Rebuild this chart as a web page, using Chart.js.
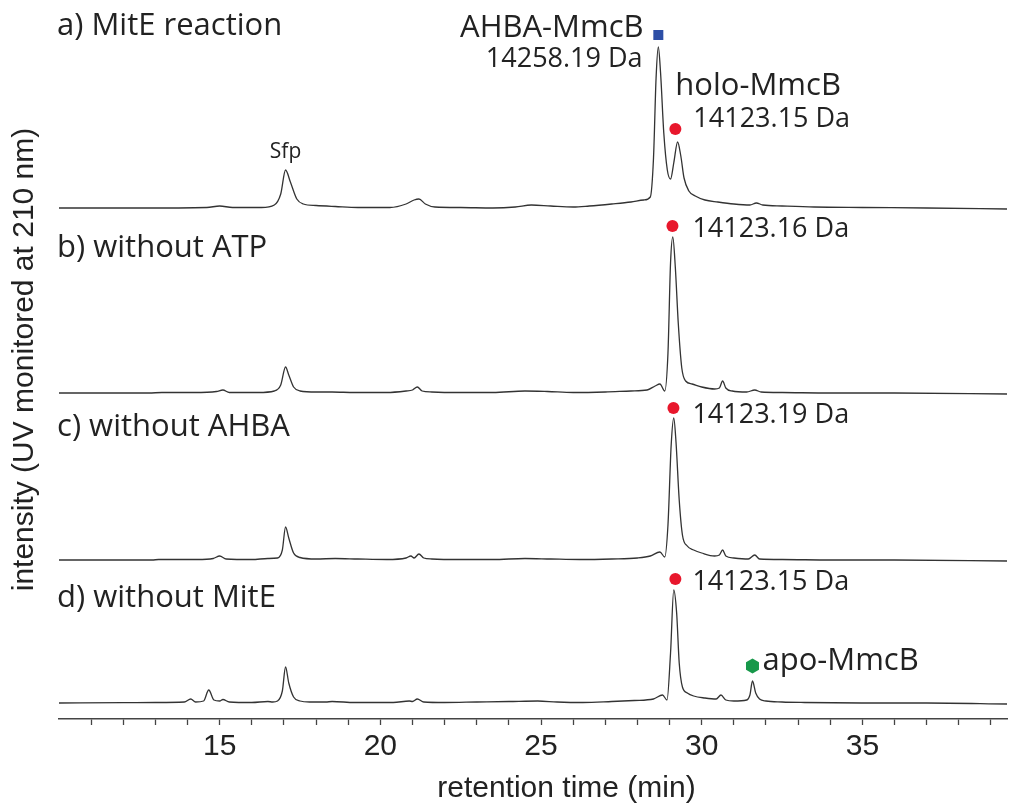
<!DOCTYPE html>
<html>
<head>
<meta charset="utf-8">
<script src="https://cdn.jsdelivr.net/npm/chart.js@4.4.0/dist/chart.umd.min.js"></script>
<style>
  body { margin: 0; background: #fff; }
  #wrap { width: 1011px; height: 810px; }
</style>
</head>
<body>
<div id="wrap"><canvas id="hplc" width="1011" height="810"></canvas></div>
<script>
// retention time (min) and signal (arbitrary units)
const timeA = [10, 12.5, 14.6, 15.0, 15.4, 16.3, 16.7, 16.9, 17.05, 17.2, 17.4, 17.6, 18.0, 18.6, 19.3, 20.3, 20.8, 21.05, 21.2, 21.4, 21.7, 22.5, 23.5, 24.2, 24.7, 25.3, 26.0, 26.5, 27.2, 27.8, 28.2, 28.4, 28.5, 28.58, 28.65, 28.72, 28.82, 28.93, 29.03, 29.13, 29.25, 29.35, 29.45, 29.6, 29.8, 30.1, 30.5, 31.0, 31.5, 31.7, 31.9, 32.5, 33.5, 35, 37, 39.5];
const signalA = [0, 0, 0.5, 2, 0.5, 0.5, 3, 14, 38, 26, 9, 4, 2.5, 1.5, 0.5, 0.5, 4, 8, 9, 4, 1, 0.5, 0, 1, 3, 2, 1, 2, 4, 6, 8, 11, 50, 130, 161, 135, 75, 38, 29, 45, 66, 52, 30, 17, 12, 8, 6, 4, 3, 5, 3, 2, 1, 0.5, 0, -1];

const timeB = [10, 12.8, 13.2, 14.2, 14.9, 15.1, 15.3, 16.2, 16.7, 16.9, 17.05, 17.15, 17.3, 17.5, 18.0, 18.5, 19.2, 20.2, 20.8, 21.0, 21.15, 21.3, 21.6, 22.4, 23.5, 24.5, 25.2, 26.0, 27.0, 27.8, 28.3, 28.55, 28.7, 28.85, 28.95, 29.03, 29.1, 29.18, 29.27, 29.38, 29.5, 29.7, 30.0, 30.4, 30.55, 30.65, 30.75, 30.95, 31.4, 31.65, 31.85, 32.5, 34, 36, 39.5];
const signalB = [0, 0, 0.5, 0.5, 1.5, 3, 0.5, 0.5, 2, 8, 26, 18, 6, 2, 1, 1, 0.5, 0.5, 2, 3, 6, 2, 1, 0.5, 0.5, 2, 1.5, 0.5, 1, 2, 3, 7, 9, 2, 40, 130, 156, 125, 70, 25, 12, 9, 6, 4, 5, 12, 5, 2, 1, 3, 1, 0.5, 0, 0, -1];

const timeC = [10, 12.9, 13.1, 14.3, 14.8, 15.0, 15.2, 16.0, 16.5, 16.8, 16.95, 17.05, 17.15, 17.3, 17.5, 18.0, 18.6, 19.3, 20.2, 20.8, 20.95, 21.05, 21.2, 21.35, 21.6, 22.5, 23.5, 24.5, 25.3, 26.2, 27.2, 28.0, 28.4, 28.7, 28.85, 28.95, 29.05, 29.13, 29.2, 29.3, 29.4, 29.55, 29.75, 30.0, 30.4, 30.55, 30.65, 30.75, 31.0, 31.45, 31.65, 31.8, 32.5, 34, 36, 39.5];
const signalC = [0, 0, 0.5, 0.5, 1.5, 4, 1, 0.5, 1.5, 2, 10, 33, 22, 7, 2.5, 1, 1.5, 1, 0.5, 2, 4, 2, 6, 2, 1, 0.5, 0.5, 1.5, 1, 0.5, 1, 2, 4, 8, 3, 35, 115, 142, 118, 60, 25, 14, 10, 7, 4, 5, 10, 4, 2, 1, 5, 1, 0.5, 0, 0, -1];

const timeD = [10, 12.0, 13.0, 13.9, 14.1, 14.25, 14.5, 14.66, 14.82, 15.0, 15.1, 15.3, 16.0, 16.5, 16.65, 16.8, 16.95, 17.05, 17.15, 17.3, 17.5, 17.8, 18.3, 18.5, 19.2, 20.4, 20.9, 21.0, 21.15, 21.35, 22.0, 23.0, 24.0, 24.9, 25.5, 26.3, 27.2, 27.9, 28.5, 28.78, 28.92, 29.03, 29.13, 29.22, 29.3, 29.4, 29.55, 29.75, 30.1, 30.45, 30.6, 30.75, 31.0, 31.4, 31.5, 31.58, 31.68, 31.8, 32.0, 32.5, 33.2, 35, 37, 39.5];
const signalD = [0, 0.3, 0.5, 1, 4, 1, 2, 13, 3, 2, 3.5, 1, 0.5, 1.5, 1, 2, 12, 36, 20, 6, 2, 1, 1, 1.5, 0.5, 0.5, 2, 1.5, 4, 1, 0.5, 1, 1.5, 2, 1, 0.5, 1.5, 2.5, 4, 8, 3, 50, 113, 90, 40, 16, 10, 7, 5, 4, 8, 3, 2, 3, 8, 22, 10, 4, 2, 1, 0.5, 0, 0, -1];

const traceNames = ["a) MitE reaction", "b) without ATP", "c) without AHBA", "d) without MitE"];
const traceOffsets = [511, 326, 159, 16];      // vertical stacking of the four runs
const tickLabels = [15, 20, 25, 30, 35];

const traces = [[timeA, signalA], [timeB, signalB], [timeC, signalC], [timeD, signalD]];

// peak markers: time, height above the axis, kind
const markers = [
    {t: 28.65, v: 684, kind: "square"},
    {t: 29.18, v: 590, kind: "dot"},
    {t: 29.09, v: 493, kind: "dot"},
    {t: 29.12, v: 311, kind: "dot"},
    {t: 29.18, v: 140, kind: "dot"},
    {t: 31.58, v: 53, kind: "hex"}
];

// text notes next to peaks
const notes = [
    {text: "Sfp", t: 17.05, v: 561, size: 21, align: "center"},
    {text: "AHBA-MmcB", t: 28.19, v: 682, size: 31, align: "right"},
    {text: "14258.19 Da", t: 28.16, v: 652, size: 27, align: "right"},
    {text: "holo-MmcB", t: 29.18, v: 624, size: 31, align: "left"},
    {text: "14123.15 Da", t: 29.74, v: 592, size: 27, align: "left"},
    {text: "14123.16 Da", t: 29.71, v: 482, size: 27, align: "left"},
    {text: "14123.19 Da", t: 29.71, v: 296, size: 27, align: "left"},
    {text: "14123.15 Da", t: 29.71, v: 129, size: 27, align: "left"},
    {text: "apo-MmcB", t: 31.89, v: 49, size: 31, align: "left"}
];
const titleHeights = [684, 462, 283, 112];   // baselines of the panel captions

const datasets = traces.map(([times, values], i) => ({
    label: traceNames[i],
    data: times.map((t, j) => ({x: t, y: values[j] + traceOffsets[i]})),
    borderColor: "#333",
    borderWidth: 1.3,
    pointRadius: 0,
    cubicInterpolationMode: "monotone",
    fill: false
}));

const annotate = {
    id: "annotate",
    afterDatasetsDraw(chart) {
        const {ctx, scales: {x, y}} = chart;
        ctx.save();
        ctx.fillStyle = "#222";
        ctx.textBaseline = "alphabetic";

        // panel captions
        ctx.font = "31px 'Open Sans'";
        ctx.textAlign = "left";
        traceNames.forEach((name, i) => {
            ctx.fillText(name, x.getPixelForValue(9.94), y.getPixelForValue(titleHeights[i]));
        });

        notes.forEach(n => {
            ctx.font = n.size + "px 'Open Sans'";
            ctx.textAlign = n.align;
            ctx.fillText(n.text, x.getPixelForValue(n.t), y.getPixelForValue(n.v));
        });

        markers.forEach(m => {
            const px = x.getPixelForValue(m.t);
            const py = y.getPixelForValue(m.v);
            ctx.beginPath();
            if (m.kind === "square") {
                ctx.fillStyle = "#2d4ea6";
                ctx.rect(px - 5, py - 5, 10, 10);
            } else if (m.kind === "dot") {
                ctx.fillStyle = "#e8172c";
                ctx.arc(px, py, 6, 0, Math.PI * 2);
            } else {
                ctx.fillStyle = "#17984a";
                for (let k = 0; k < 6; k++) {
                    const a = Math.PI / 6 + k * Math.PI / 3;
                    const hx = px + 7.5 * Math.cos(a), hy = py + 7.5 * Math.sin(a);
                    if (k === 0) ctx.moveTo(hx, hy); else ctx.lineTo(hx, hy);
                }
                ctx.closePath();
            }
            ctx.fill();
        });

        // x axis title
        ctx.fillStyle = "#222";
        ctx.font = "30px 'Liberation Sans'";
        ctx.textAlign = "center";
        ctx.fillText("retention time (min)", x.getPixelForValue(25.79), x.bottom + 28);
        ctx.restore();
    }
};

Chart.defaults.font.family = "'Liberation Sans', Arial, sans-serif";
Chart.defaults.color = "#222";

const ctx = document.getElementById("hplc").getContext("2d");
const hplcChart = new Chart(ctx, {
    type: "line",
    data: {datasets: datasets},
    options: {
        responsive: false,
        animation: false,
        layout: {padding: {left: 0, right: 4, top: 0, bottom: 41}},
        scales: {
            x: {
                type: "linear",
                min: 10,
                max: 39.5,
                border: {display: true, color: "#444", width: 1.5},
                grid: {
                    drawOnChartArea: false,
                    drawTicks: true,
                    tickLength: 6,
                    tickWidth: 1.3,
                    tickColor: (c) => (c.tick && c.tick.value === 10) ? "rgba(0,0,0,0)" : "#444"
                },
                ticks: {
                    stepSize: 1,
                    autoSkip: false,
                    includeBounds: false,
                    maxRotation: 0,
                    padding: 4,
                    font: {size: 30},
                    callback: (v) => tickLabels.includes(v) ? String(v) : ""
                }
            },
            y: {
                min: 0,
                max: 719,
                border: {display: false},
                grid: {display: false, drawTicks: false},
                ticks: {display: false},
                title: {
                    display: true,
                    text: "intensity (UV monitored at 210 nm)",
                    font: {size: 30},
                    padding: {top: 7, bottom: 16}
                }
            }
        },
        plugins: {
            legend: {display: false},
            tooltip: {enabled: false}
        }
    },
    plugins: [annotate]
});
</script>
</body>
</html>
